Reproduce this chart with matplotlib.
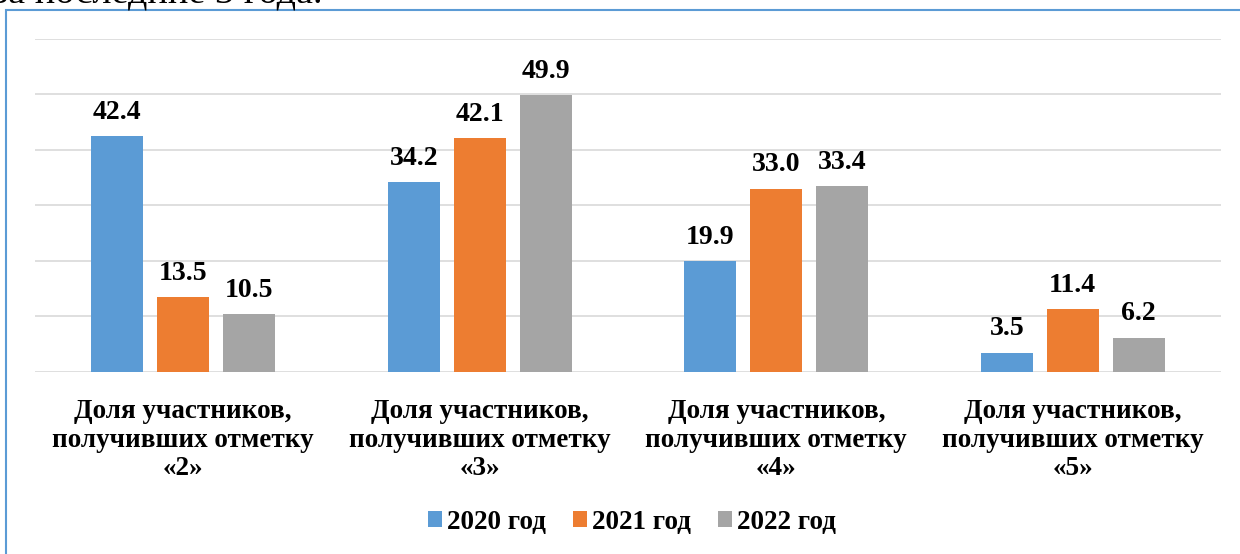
import matplotlib
matplotlib.use("Agg")
import matplotlib.pyplot as plt
from matplotlib.patches import Rectangle
import numpy as np

plt.rcParams["font.family"] = ["Liberation Serif", "DejaVu Serif"]

categories = [
    "Доля участников,\nполучивших отметку\n«2»",
    "Доля участников,\nполучивших отметку\n«3»",
    "Доля участников,\nполучивших отметку\n«4»",
    "Доля участников,\nполучивших отметку\n«5»",
]
series_names = ["2020 год", "2021 год", "2022 год"]
values_2020 = [42.4, 34.2, 19.9, 3.5]
values_2021 = [13.5, 42.1, 33.0, 11.4]
values_2022 = [10.5, 49.9, 33.4, 6.2]
colors = ["#5B9BD5", "#ED7D31", "#A5A5A5"]

fig = plt.figure(figsize=(12.4, 5.54), dpi=100)
fig.patch.set_facecolor("white")

# frame of the embedded chart (runs past the right/bottom edge)
fig.patches.append(Rectangle((6 / 1240, -0.1), 1.2, 1 - 10 / 554 + 0.1,
                             transform=fig.transFigure, fill=False,
                             edgecolor="#5B9BD5", linewidth=1.5))
# clipped line of the surrounding document text
fig.text(-0.006, 1.0 - 3 / 554, "за последние 3 года.", fontsize=27.5,
         ha="left", va="baseline")

ax = fig.add_axes([35 / 1240, 1 - 372 / 554, 1186 / 1240, (372 - 38.5) / 554])
x = np.arange(len(categories))
width = 0.175
step = 0.222
for i, (vals, name) in enumerate(zip([values_2020, values_2021, values_2022], series_names)):
    bars = ax.bar(x + (i - 1) * step, vals, width, color=colors[i], label=name, zorder=3)
    for b, v in zip(bars, vals):
        ax.annotate(f"{v:.1f}", (b.get_x() + b.get_width() / 2, v),
                    xytext=(0, 8), textcoords="offset points",
                    ha="center", va="bottom", fontsize=20, fontweight="bold")

ax.set_xlim(-0.5, 3.5)
ax.set_ylim(0, 60)
ax.set_yticks(np.arange(0, 61, 10))
ax.yaxis.grid(True, color="#D9D9D9", linewidth=1.2, zorder=0)
ax.tick_params(axis="y", left=False, labelleft=False)
ax.tick_params(axis="x", bottom=False, pad=16)
ax.set_xticks(x)
ax.set_xticklabels(categories, fontsize=19.5, fontweight="bold", linespacing=1.19)
for s in ["top", "right", "left", "bottom"]:
    ax.spines[s].set_visible(False)

leg = fig.legend(loc="center", bbox_to_anchor=(632 / 1240, 1 - 522 / 554), ncol=3,
                 frameon=False, prop={"size": 19.5, "weight": "bold"},
                 handlelength=0.52, handleheight=0.52, handletextpad=0.18,
                 columnspacing=1.0)

fig.savefig("out.png", dpi=100)
